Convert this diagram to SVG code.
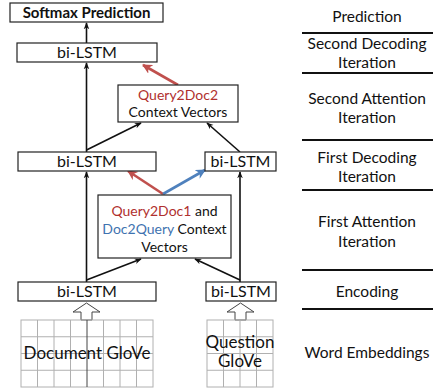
<svg xmlns="http://www.w3.org/2000/svg" width="435" height="390" viewBox="0 0 435 390">
<defs>
<style>
.box{fill:#fff;stroke:#222;stroke-width:1.2}
.t{font-family:Lato,"Liberation Sans",sans-serif;font-size:16px;fill:#111;text-anchor:middle}
.lbl{font-family:Lato,"Liberation Sans",sans-serif;font-size:15.5px;fill:#111;text-anchor:middle}
.blk{stroke:#111;stroke-width:1.6;fill:none}
.red{stroke:#c0504d;stroke-width:2.6;fill:none}
.blue{stroke:#4f81bd;stroke-width:2.6;fill:none}
.grid{stroke:#b0b0b0;stroke-width:1;fill:none}
.sep{stroke:#111;stroke-width:1.8}
</style>
<marker id="ah" viewBox="0 0 10 10" refX="9" refY="5" markerWidth="7" markerHeight="7" orient="auto" markerUnits="userSpaceOnUse">
<path d="M0,1 L10,5 L0,9 L3,5 Z" fill="#111"/>
</marker>
<marker id="ahr" viewBox="0 0 10 10" refX="9" refY="5" markerWidth="10" markerHeight="10" orient="auto" markerUnits="userSpaceOnUse">
<path d="M0,0 L10,5 L0,10 L3,5 Z" fill="#c0504d"/>
</marker>
<marker id="ahb" viewBox="0 0 10 10" refX="9" refY="5" markerWidth="10" markerHeight="10" orient="auto" markerUnits="userSpaceOnUse">
<path d="M0,0 L10,5 L0,10 L3,5 Z" fill="#4f81bd"/>
</marker>
</defs>
<rect width="435" height="390" fill="#fff"/>

<g id="connectors">
<line class="blk" x1="86.5" y1="43" x2="86.5" y2="23" marker-end="url(#ah)"/>
<line class="blk" x1="86.5" y1="152" x2="86.5" y2="63" marker-end="url(#ah)"/>
<line class="blk" x1="86.5" y1="150" x2="141" y2="123" marker-end="url(#ah)"/>
<line class="blk" x1="240" y1="152" x2="207" y2="123" marker-end="url(#ah)"/>
<line class="blk" x1="86.5" y1="282" x2="86.5" y2="172" marker-end="url(#ah)"/>
<line class="blk" x1="240" y1="282" x2="240" y2="172" marker-end="url(#ah)"/>
<line class="blk" x1="86.5" y1="280" x2="141" y2="259" marker-end="url(#ah)"/>
<line class="blk" x1="240" y1="280" x2="195" y2="259" marker-end="url(#ah)"/>
<line class="red" x1="178" y1="85" x2="143" y2="65" marker-end="url(#ahr)"/>
<line class="red" x1="163" y1="194" x2="128" y2="171" marker-end="url(#ahr)"/>
<line class="blue" x1="163" y1="194" x2="205" y2="170" marker-end="url(#ahb)"/>
<path d="M86.5,303 L100,312 L92,312 L92,320 L81,320 L81,312 L73,312 Z" fill="#fff" stroke="#444" stroke-width="1"/>
<path d="M240.5,303 L254,312 L246,312 L246,320 L235,320 L235,312 L227,312 Z" fill="#fff" stroke="#444" stroke-width="1"/>
</g>

<g id="softmax">
<rect class="box" x="10" y="3" width="153" height="19"/>
<text class="t" x="86.5" y="18" font-weight="bold" style="font-size:15px">Softmax Prediction</text>
</g>
<g id="bilstm-top">
<rect class="box" x="17" y="43" width="140" height="19"/>
<text class="t" x="87" y="58">bi-LSTM</text>
</g>
<g id="query2doc2">
<rect class="box" x="118" y="85" width="120" height="37"/>
<text class="t" x="178" y="100" style="fill:#b0302e;font-size:14px">Query2Doc2</text>
<text class="t" x="178" y="117" style="font-size:14px">Context Vectors</text>
</g>
<g id="bilstm-mid-left">
<rect class="box" x="18" y="152" width="138" height="19"/>
<text class="t" x="87" y="167">bi-LSTM</text>
</g>
<g id="bilstm-mid-right">
<rect class="box" x="205" y="152" width="71" height="19"/>
<text class="t" x="240.5" y="167">bi-LSTM</text>
</g>
<g id="query2doc1">
<rect class="box" x="98" y="195" width="133" height="63"/>
<text class="t" x="164.5" y="216" style="font-size:14px"><tspan style="fill:#b0302e">Query2Doc1</tspan> and</text>
<text class="t" x="164.5" y="234" style="font-size:14px"><tspan style="fill:#3f73b0">Doc2Query</tspan> Context</text>
<text class="t" x="164.5" y="252" style="font-size:14px">Vectors</text>
</g>
<g id="bilstm-bot-left">
<rect class="box" x="18" y="282" width="138" height="19"/>
<text class="t" x="87" y="297">bi-LSTM</text>
</g>
<g id="bilstm-bot-right">
<rect class="box" x="206" y="282" width="70" height="19"/>
<text class="t" x="241" y="297">bi-LSTM</text>
</g>
<g id="doc-glove">
<rect class="grid" x="21" y="320" width="132" height="67"/>
<path class="grid" d="M37.5,320V387M54,320V387M70.5,320V387M103.5,320V387M120,320V387M136.5,320V387M21,336.75H153M21,353.5H153M21,370.25H153"/>
<line x1="87" y1="320" x2="87" y2="387" stroke="#444" stroke-width="1"/>
<text class="t" x="87" y="359" style="font-size:17px">Document GloVe</text>
</g>
<g id="question-glove">
<rect class="grid" x="207" y="320" width="66" height="67"/>
<path class="grid" d="M223.5,320V387M240,320V387M256.5,320V387M207,336.75H273M207,353.5H273M207,370.25H273"/>
<text class="t" x="240" y="348" style="font-size:17px">Question</text>
<text class="t" x="240" y="367" style="font-size:17px">GloVe</text>
</g>

<g id="labels">
<text class="lbl" x="367" y="22">Prediction</text>
<line class="sep" x1="302" y1="33" x2="433" y2="33"/>
<text class="lbl" x="367" y="49">Second Decoding</text>
<text class="lbl" x="367" y="68">Iteration</text>
<line class="sep" x1="302" y1="73" x2="433" y2="73"/>
<text class="lbl" x="367" y="104">Second Attention</text>
<text class="lbl" x="367" y="123">Iteration</text>
<line class="sep" x1="302" y1="140" x2="433" y2="140"/>
<text class="lbl" x="367" y="163">First Decoding</text>
<text class="lbl" x="367" y="182">Iteration</text>
<line class="sep" x1="302" y1="190" x2="433" y2="190"/>
<text class="lbl" x="367" y="227">First Attention</text>
<text class="lbl" x="367" y="247">Iteration</text>
<line class="sep" x1="302" y1="270" x2="433" y2="270"/>
<text class="lbl" x="367" y="297">Encoding</text>
<line class="sep" x1="302" y1="309" x2="433" y2="309"/>
<text class="lbl" x="367" y="358">Word Embeddings</text>
</g>
</svg>
